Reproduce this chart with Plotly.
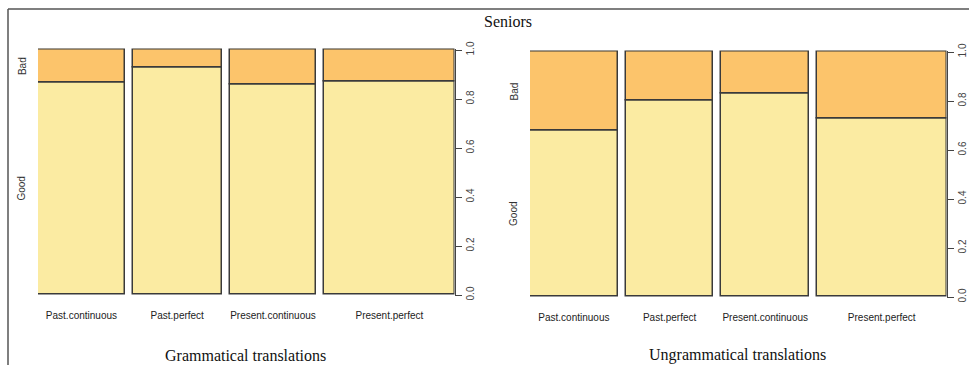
import plotly.graph_objects as go

# Tense categories shown in both spineplots
categories = ["Past.continuous", "Past.perfect", "Present.continuous", "Present.perfect"]

# Number of judgements per tense (bar widths)
gram_counts = [40, 41, 40, 60]
ungram_counts = [40, 40, 40, 59]

# Proportion of "Good" judgements per tense
gram_good = [0.869, 0.927, 0.861, 0.873]
ungram_good = [0.678, 0.800, 0.829, 0.727]

level_labels = ["Good", "Bad"]
y_ticks = [0.0, 0.2, 0.4, 0.6, 0.8, 1.0]

GOOD_COLOR = "#FBEBA2"
BAD_COLOR = "#FCC46B"
EDGE = "#3a3a3a"

W, H = 969, 365
PAD = 0.006  # small headroom so the bar outlines at 0 and 1 are not clipped


def spine_layout(counts):
    """Centres, widths and total extent of a spineplot with R's 2% offset."""
    total = sum(counts)
    gap = 0.02 * total
    centers, x = [], 0.0
    for c in counts:
        centers.append(x + c / 2)
        x += c + gap
    return centers, list(counts), x - gap


fig = go.Figure()

panels = [
    dict(counts=gram_counts, good=gram_good, xa="x", ya="y",
         xdom=(38, 453), ydom=(50, 295), title="Grammatical translations"),
    dict(counts=ungram_counts, good=ungram_good, xa="x2", ya="y2",
         xdom=(530, 945), ydom=(52, 297), title="Ungrammatical translations"),
]

for i, p in enumerate(panels):
    centers, widths, extent = spine_layout(p["counts"])
    bad = [1 - g for g in p["good"]]
    fig.add_trace(go.Bar(
        x=centers, y=p["good"], width=widths, base=0,
        marker=dict(color=GOOD_COLOR, line=dict(color=EDGE, width=1.5)),
        xaxis=p["xa"], yaxis=p["ya"], showlegend=False, hoverinfo="skip"))
    fig.add_trace(go.Bar(
        x=centers, y=bad, width=widths, base=p["good"],
        marker=dict(color=BAD_COLOR, line=dict(color=EDGE, width=1.5)),
        xaxis=p["xa"], yaxis=p["ya"], showlegend=False, hoverinfo="skip"))

    suffix = "" if i == 0 else "2"
    x0, x1 = p["xdom"]
    ytop, ybot = p["ydom"]
    span = ybot - ytop
    pad_px = PAD * span
    fig.layout["xaxis" + suffix] = dict(
        domain=[x0 / W, (x1 + 1.5) / W], range=[0, extent], anchor="y" + suffix,
        tickvals=centers, ticktext=categories, ticks="", showline=False,
        showgrid=False, zeroline=False, ticklabelstandoff=12, automargin=False,
        tickfont=dict(family="Liberation Sans, Arial", size=10, color="#222"))
    fig.layout["yaxis" + suffix] = dict(
        domain=[(H - ybot - pad_px) / H, (H - ytop + pad_px) / H],
        range=[-PAD, 1 + PAD],
        anchor="x" + suffix, side="right", tickvals=y_ticks,
        ticktext=[f"{v:.1f}" for v in y_ticks], tickangle=-90,
        ticks="outside", ticklen=6, tickcolor="#444", showline=True,
        linecolor="#444", linewidth=1, showgrid=False, zeroline=False,
        automargin=False,
        tickfont=dict(family="Liberation Sans, Arial", size=10, color="#444"))

    # Level labels beside the first bar
    g0 = p["good"][0]
    for lab, yv in zip(level_labels, [g0 / 2, (1 + g0) / 2]):
        fig.add_annotation(
            text=lab, x=(x0 - 16) / W, xref="paper", y=yv, yref="y" + suffix,
            xanchor="center", yanchor="middle", textangle=-90, showarrow=False,
            font=dict(family="Liberation Sans, Arial", size=10, color="#333"))

    fig.add_annotation(
        text=p["title"], x=(x0 + x1) / 2 / W, xref="paper", y=(H - 355) / H,
        yref="paper", showarrow=False, xanchor="center", yanchor="middle",
        font=dict(family="Liberation Serif, Times New Roman", size=16, color="#111"))

fig.add_annotation(
    text="Seniors", x=508 / W, xref="paper", y=(H - 22) / H, yref="paper",
    showarrow=False, xanchor="center", yanchor="middle",
    font=dict(family="Liberation Serif, Times New Roman", size=16, color="#111"))

# Outer frame lines (left and top)
frame = dict(color="#555", width=1.5)
fig.add_shape(type="line", xref="paper", yref="paper",
              x0=8 / W, x1=8 / W, y0=0, y1=(H - 9) / H, line=frame)
fig.add_shape(type="line", xref="paper", yref="paper",
              x0=8 / W, x1=1, y0=(H - 9) / H, y1=(H - 9) / H, line=frame)

fig.update_layout(
    width=W, height=H, margin=dict(l=0, r=0, t=0, b=0),
    paper_bgcolor="white", plot_bgcolor="white", barmode="overlay",
    bargap=0)

fig.write_html("out.html")
